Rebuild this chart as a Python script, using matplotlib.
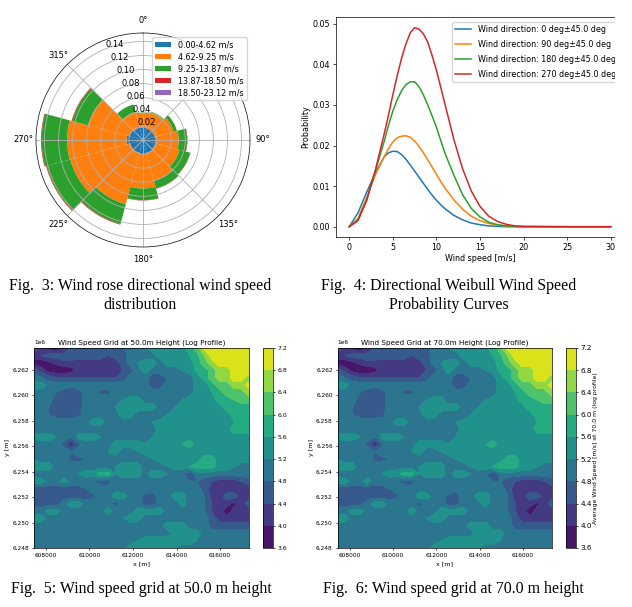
#!/usr/bin/env python3

import numpy as np
import matplotlib
matplotlib.use("Agg")
import matplotlib.pyplot as plt
from matplotlib.patches import Rectangle

W, H = 632, 607

# wind rose, stacked frequency per sector
DIRS = [0, 30, 60, 90, 120, 150, 180, 210, 240, 270, 300, 330]
BIN_LABELS = ["0.00-4.62 m/s", "4.62-9.25 m/s", "9.25-13.87 m/s", "13.87-18.50 m/s", "18.50-23.12 m/s"]
BIN_1 = [.0176, .0171, .0171, .0181, .0181, .019, .020, .019, .019, .0233, .020, .0181]
BIN_2 = [.0204, .0238, .028, .0327, .0356, .0409, .0489, .0755, .0879, .0845, .0608, .0232]
BIN_3 = [.001, .0009, .0048, .0119, .0157, .0114, .0166, .029, .0347, .0361, .0232, .011]
BIN_4 = [0, 0, 0, .0005, .0005, .0005, .0005, .001, .001, .001, .001, 0]
BIN_5 = [0, 0, 0, 0, 0, 0, 0, 0, 0, 0, 0, 0]
R_TICKS = [0.02, 0.04, 0.06, 0.08, 0.10, 0.12, 0.14]
THETA_TICKS = [0, 45, 90, 135, 180, 225, 270, 315]
THETA_LABELS = ["0\u00b0", "", "90\u00b0", "135\u00b0", "180\u00b0", "225\u00b0", "270\u00b0", "315\u00b0"]

# weibull curves
SPEED = [0, 1, 2, 3, 4, 4.5, 5, 5.5, 6, 6.5, 7, 7.5, 8, 8.5, 9, 9.5, 10, 10.5, 11,
         12, 13, 14, 15, 16, 17, 18, 19, 20, 25, 30]
P_0 = [0, .0034, .0085, .0133, .0172, .0182, .0186, .0185, .0178, .0166, .0152, .0137, .0122, .0107, .0092,
       .0078, .0065, .0054, .0044, .0028, .0017, .0009, .0005, .0002, .0001, 0, 0, 0, 0, 0]
P_90 = [0, .0020, .0072, .0128, .0172, .0192, .0209, .0219, .0223, .0224, .0220, .0211, .0198, .0182, .0165,
        .0147, .0129, .0111, .0095, .0066, .0043, .0026, .0015, .0008, .0004, .0002, .0001, 0, 0, 0]
P_180 = [0, .0017, .0066, .0138, .021, .025, .0285, .0313, .0335, .0350, .0357, .0357, .0345, .0325, .0300,
         .0273, .0245, .0212, .0180, .0127, .0079, .0045, .0024, .0011, .0005, .0002, .0001, 0, 0, 0]
P_270 = [0, .0015, .0065, .0140, .0228, .0275, .0325, .0372, .0415, .0450, .0478, .0490, .0487, .0475, .0455,
         .0422, .0385, .0343, .0300, .0215, .0143, .0088, .0050, .0026, .0013, .0006, .0002, .0001, 0, 0]
CURVE_LABELS = ["Wind direction: 0 deg\u00b145.0 deg", "Wind direction: 90 deg\u00b145.0 deg",
                "Wind direction: 180 deg\u00b145.0 deg", "Wind direction: 270 deg\u00b145.0 deg"]

# wind speed grid, top row first
LEVELS = [3.6, 4.0, 4.4, 4.8, 5.2, 5.6, 6.0, 6.4, 6.8, 7.2]
X_RANGE = [607450, 617330]
Y_RANGE = [6248000, 6263730]
SPEED_GRID = [
    [4.6, 4.2, 3.8, 3.7, 3.9, 4.4, 4.6, 4.6, 4.6, 4.6, 4.6, 4.6, 4.7, 5.0, 5.0, 5.2, 5.4, 5.4, 5.4, 5.4, 5.5, 5.8, 6.2, 7.0, 7.0, 7.0, 7.0, 7.0, 7.0, 7.0],
    [4.2, 4.4, 4.6, 4.6, 4.6, 4.6, 4.6, 4.6, 4.6, 4.6, 4.4, 4.6, 4.6, 5.0, 5.0, 5.0, 5.0, 5.4, 5.4, 5.4, 5.4, 5.6, 5.9, 6.4, 7.0, 7.0, 7.0, 7.0, 7.0, 7.0],
    [3.8, 3.7, 3.9, 4.1, 4.3, 4.3, 4.2, 4.2, 4.2, 4.2, 4.2, 4.2, 4.6, 5.0, 5.2, 5.4, 5.4, 5.0, 5.4, 5.4, 5.4, 5.4, 5.8, 6.2, 6.6, 7.0, 7.0, 7.0, 7.0, 7.0],
    [4.6, 4.2, 3.8, 3.7, 3.7, 3.8, 4.2, 4.2, 4.2, 4.2, 4.2, 4.2, 4.4, 4.6, 5.0, 5.4, 5.0, 5.0, 5.0, 5.0, 5.2, 5.4, 5.7, 5.8, 6.2, 6.6, 6.6, 7.0, 7.0, 7.0],
    [5.0, 4.8, 4.6, 4.4, 4.4, 4.4, 4.4, 4.4, 4.4, 4.4, 4.4, 4.4, 4.6, 5.0, 5.0, 5.0, 4.6, 4.6, 4.8, 4.8, 4.8, 5.0, 5.4, 5.8, 6.2, 6.6, 6.6, 7.0, 7.0, 6.6],
    [5.4, 5.4, 5.0, 5.0, 5.0, 5.0, 5.0, 5.0, 5.0, 5.0, 5.0, 5.0, 5.0, 5.0, 5.0, 5.0, 4.5, 4.6, 5.0, 5.0, 5.0, 5.0, 5.4, 5.4, 5.8, 6.2, 6.2, 6.6, 6.6, 7.0],
    [5.0, 5.0, 5.0, 4.8, 4.6, 4.4, 4.6, 5.0, 5.0, 4.7, 4.7, 5.0, 5.0, 5.0, 5.0, 5.0, 5.0, 5.0, 5.0, 5.0, 5.0, 5.0, 5.4, 5.4, 5.6, 5.8, 6.2, 6.2, 6.2, 6.6],
    [5.0, 5.0, 5.0, 4.6, 4.6, 4.6, 4.6, 5.0, 5.0, 5.0, 5.0, 5.0, 5.2, 5.4, 5.4, 5.0, 5.0, 5.0, 5.0, 5.0, 5.2, 5.4, 5.4, 5.4, 5.4, 5.8, 5.8, 6.0, 6.2, 6.2],
    [5.0, 5.0, 4.8, 4.6, 4.6, 4.6, 4.6, 5.0, 5.0, 5.0, 5.0, 5.2, 5.4, 5.4, 5.4, 5.4, 5.4, 5.0, 5.0, 5.2, 5.4, 5.4, 5.4, 5.4, 5.4, 5.4, 5.8, 5.8, 5.8, 5.8],
    [5.0, 5.0, 4.8, 4.6, 4.6, 4.6, 4.7, 5.0, 5.0, 5.0, 5.0, 5.0, 5.4, 5.4, 5.0, 5.0, 5.0, 5.0, 5.2, 5.4, 5.4, 5.4, 5.4, 5.4, 5.4, 5.4, 5.4, 5.8, 5.8, 5.8],
    [5.0, 5.0, 5.0, 5.0, 5.0, 5.0, 5.0, 5.0, 5.4, 5.4, 5.0, 5.0, 5.0, 5.0, 5.0, 5.0, 5.2, 5.3, 5.4, 5.4, 5.4, 5.4, 5.4, 5.4, 5.4, 5.4, 5.4, 5.6, 5.8, 5.8],
    [5.0, 5.0, 5.0, 5.0, 5.0, 5.0, 5.0, 5.0, 5.0, 5.0, 5.0, 5.0, 5.0, 5.0, 5.0, 5.0, 5.0, 5.4, 5.4, 5.4, 5.4, 5.4, 5.4, 5.4, 5.4, 5.4, 5.4, 5.8, 5.8, 5.8],
    [5.4, 5.4, 5.4, 5.2, 5.0, 4.8, 5.4, 5.4, 5.4, 5.2, 5.0, 5.0, 5.0, 5.0, 5.0, 5.0, 5.2, 5.4, 5.4, 5.4, 5.4, 5.4, 5.4, 5.4, 5.4, 5.4, 5.4, 5.4, 5.4, 5.4],
    [5.0, 5.0, 5.0, 5.0, 4.7, 4.0, 4.7, 5.0, 5.0, 5.0, 5.0, 5.4, 5.4, 5.4, 5.4, 5.2, 5.4, 5.4, 5.4, 5.4, 5.6, 5.8, 5.4, 5.4, 5.4, 5.4, 5.4, 5.4, 5.4, 5.4],
    [5.0, 5.0, 5.0, 5.0, 5.0, 4.8, 5.0, 5.0, 5.0, 5.0, 5.2, 5.4, 5.0, 5.0, 5.2, 5.4, 5.4, 5.4, 5.4, 5.4, 5.4, 5.4, 5.4, 5.4, 5.4, 5.4, 5.4, 5.4, 5.4, 5.4],
    [5.2, 5.0, 5.0, 5.0, 5.0, 4.7, 4.7, 4.8, 5.0, 5.0, 5.0, 5.0, 5.0, 5.0, 5.0, 5.0, 5.2, 5.4, 5.4, 5.4, 5.4, 5.4, 5.4, 5.8, 5.8, 5.4, 5.4, 5.4, 5.4, 5.4],
    [5.4, 5.4, 5.4, 5.0, 5.0, 5.0, 5.0, 5.0, 5.0, 5.0, 5.0, 5.2, 5.4, 5.4, 5.4, 5.0, 5.0, 5.0, 5.2, 5.4, 5.4, 5.6, 5.8, 5.8, 5.8, 5.4, 5.4, 5.2, 5.0, 5.0],
    [5.0, 5.0, 5.0, 5.0, 5.0, 5.0, 5.2, 5.4, 5.4, 5.8, 5.8, 5.2, 5.4, 5.4, 5.4, 5.0, 5.4, 5.4, 5.2, 5.0, 4.8, 4.4, 5.0, 5.0, 5.0, 5.0, 5.0, 5.0, 5.0, 5.0],
    [5.4, 5.4, 5.0, 5.0, 5.4, 5.0, 5.0, 5.0, 4.8, 4.6, 4.6, 5.0, 5.0, 5.0, 5.0, 5.0, 5.0, 5.0, 5.0, 5.0, 5.0, 4.8, 4.8, 4.6, 4.4, 4.2, 4.2, 4.2, 4.4, 4.6],
    [4.6, 4.6, 4.6, 4.6, 4.6, 4.6, 4.6, 4.8, 5.0, 5.0, 5.0, 5.0, 5.0, 5.0, 5.0, 5.0, 5.0, 5.0, 5.0, 5.0, 5.0, 5.0, 5.0, 4.6, 4.2, 4.2, 4.2, 4.2, 4.2, 4.2],
    [4.6, 4.6, 4.6, 4.6, 4.6, 4.6, 4.6, 4.6, 4.7, 5.0, 5.0, 5.4, 5.4, 5.0, 5.0, 4.7, 4.6, 5.0, 5.0, 5.4, 5.4, 5.0, 5.0, 4.8, 4.2, 4.2, 4.6, 4.6, 4.2, 4.2],
    [4.6, 4.6, 4.6, 4.6, 5.0, 5.4, 5.4, 5.0, 5.0, 5.0, 5.0, 4.6, 5.0, 5.0, 5.0, 4.6, 4.6, 5.0, 5.0, 5.0, 5.4, 5.0, 5.0, 4.8, 4.4, 4.2, 4.2, 3.9, 4.2, 4.6],
    [5.0, 5.0, 5.4, 5.4, 5.0, 5.0, 5.0, 5.0, 5.0, 5.0, 5.4, 5.0, 5.0, 5.0, 5.4, 5.4, 5.4, 5.4, 5.0, 5.0, 5.0, 5.0, 5.0, 4.8, 4.4, 4.2, 3.7, 4.2, 4.2, 4.2],
    [5.4, 5.4, 5.0, 5.0, 5.0, 5.0, 5.0, 5.0, 5.0, 5.0, 5.0, 5.0, 5.2, 5.4, 5.4, 5.0, 5.0, 5.0, 5.0, 5.0, 5.0, 5.0, 5.0, 5.0, 4.6, 4.2, 4.2, 4.2, 4.2, 4.2],
    [5.0, 5.0, 5.0, 5.0, 5.0, 5.0, 5.0, 5.0, 5.0, 5.0, 5.0, 5.0, 5.0, 5.0, 5.0, 5.0, 5.0, 5.0, 5.4, 5.4, 5.4, 5.0, 5.0, 5.0, 4.6, 4.6, 4.6, 4.6, 4.6, 4.6],
    [5.0, 5.0, 5.0, 5.0, 5.0, 5.0, 5.0, 5.0, 5.0, 5.0, 5.0, 5.0, 5.0, 5.0, 5.0, 5.0, 5.0, 5.0, 5.0, 5.4, 5.4, 5.4, 5.4, 5.0, 5.0, 5.0, 5.0, 5.0, 5.0, 5.0],
    [5.0, 5.0, 5.0, 5.0, 5.0, 5.0, 5.0, 5.0, 5.0, 5.0, 5.0, 5.0, 5.0, 5.0, 5.2, 5.4, 5.4, 5.4, 5.4, 5.4, 5.4, 5.4, 5.2, 5.0, 5.0, 5.0, 5.0, 5.0, 5.0, 5.0],
    [5.0, 5.0, 5.0, 5.0, 5.0, 5.0, 5.0, 5.0, 5.0, 5.0, 5.0, 5.0, 5.0, 5.4, 5.4, 5.4, 5.4, 5.4, 5.4, 5.2, 5.0, 5.0, 5.0, 5.0, 5.0, 5.0, 5.0, 5.0, 5.0, 5.0],
]

CAPTIONS = [
    (140, 286, "Fig.  3: Wind rose directional wind speed"),
    (140, 305, "distribution"),
    (449, 286, "Fig.  4: Directional Weibull Wind Speed"),
    (449, 305, "Probability Curves"),
    (141, 589, "Fig.  5: Wind speed grid at 50.0 m height"),
    (453, 589, "Fig.  6: Wind speed grid at 70.0 m height"),
]

plt.rcParams["axes.linewidth"] = 0.5
plt.rcParams["grid.linewidth"] = 0.6
plt.rcParams["xtick.major.width"] = 0.5
plt.rcParams["ytick.major.width"] = 0.5
plt.rcParams["xtick.major.size"] = 2.2
plt.rcParams["ytick.major.size"] = 2.2
plt.rcParams["xtick.major.pad"] = 2
plt.rcParams["ytick.major.pad"] = 2


def px_axes(fig, left, top, right, bottom, **kw):
    return fig.add_axes([left / W, 1 - bottom / H, (right - left) / W, (bottom - top) / H], **kw)


fig = plt.figure(figsize=(W / 100, H / 100), dpi=100, facecolor="white")

# wind rose
ax = px_axes(fig, 36, 33, 250, 247, projection="polar")
ax.set_theta_zero_location("N")
ax.set_theta_direction(-1)
theta = np.radians(DIRS)
bottom = np.zeros(len(DIRS))
for vals, label in zip([BIN_1, BIN_2, BIN_3, BIN_4, BIN_5], BIN_LABELS):
    ax.bar(theta, vals, width=np.radians(30), bottom=bottom, label=label)
    bottom += np.array(vals)
ax.set_ylim(0, 0.152)
ax.set_thetagrids(THETA_TICKS, THETA_LABELS)
ax.set_rgrids(R_TICKS, [f"{r:.2f}" for r in R_TICKS], fontsize=6)
ax.set_rlabel_position(-22.5)
ax.tick_params(axis="x", labelsize=6, pad=0)
ax.legend(loc="upper left", bbox_to_anchor=(152 / W, 1 - 37 / H), bbox_transform=fig.transFigure,
          fontsize=5.8, borderaxespad=0, labelspacing=0.37)

# weibull curves
ax = px_axes(fig, 336.2, 17.3, 623.8, 236.7)
for vals, label in zip([P_0, P_90, P_180, P_270], CURVE_LABELS):
    ax.plot(SPEED, vals, linewidth=1.1, label=label)
ax.set_xlim(-1.5, 31.5)
ax.set_ylim(-0.00246, 0.05158)
ax.set_yticks([0, 0.01, 0.02, 0.03, 0.04, 0.05])
ax.set_xticks([0, 5, 10, 15, 20, 25, 30])
ax.tick_params(labelsize=5.8)
ax.set_xlabel("Wind speed [m/s]", fontsize=5.8, labelpad=1.5)
ax.set_ylabel("Probability", fontsize=5.8, labelpad=2)
ax.legend(loc="upper left", bbox_to_anchor=(452 / W, 1 - 22 / H), bbox_transform=fig.transFigure,
          fontsize=5.8, borderaxespad=0, labelspacing=0.72)
# the source picture is cut off on the right of this panel
fig.add_artist(Rectangle((615 / W, 1 - 260 / H), 17 / W, 260 / H, transform=fig.transFigure,
                         facecolor="white", edgecolor="none", zorder=10))

# wind speed grids
grid = np.array(SPEED_GRID)
xs = np.linspace(X_RANGE[0], X_RANGE[1], grid.shape[1])
ys = np.linspace(Y_RANGE[1], Y_RANGE[0], grid.shape[0])
panels = [
    (34, 249, 263, 273, "Wind Speed Grid at 50.0m Height (Log Profile)", None, 4.4),
    (337.7, 552, 566, 576, "Wind Speed Grid at 70.0m Height (Log Profile)",
     "Average Wind Speed [m/s] at 70.0 m (log profile)", 5.2),
]
for left, right, cb_left, cb_right, title, cb_label, cb_size in panels:
    ax = px_axes(fig, left, 348, right, 548)
    cs = ax.contourf(xs, ys, grid, levels=LEVELS, cmap="viridis")
    ax.set_xlim(X_RANGE)
    ax.set_ylim(Y_RANGE)
    ax.set_xticks([608000, 610000, 612000, 614000, 616000])
    ax.set_yticks([6248000, 6250000, 6252000, 6254000, 6256000, 6258000, 6260000, 6262000])
    ax.tick_params(labelsize=4.2, length=1.5)
    ax.yaxis.get_offset_text().set_fontsize(4.2)
    ax.set_xlabel("x [m]", fontsize=4.6, labelpad=2.5)
    ax.set_ylabel("y [m]", fontsize=4.6, labelpad=1.5)
    ax.set_title(title, fontsize=5.2, pad=2.5)
    cax = px_axes(fig, cb_left, 348, cb_right, 548)
    cb = fig.colorbar(cs, cax=cax, ticks=LEVELS)
    cb.ax.tick_params(labelsize=cb_size, length=1.5)
    if cb_label:
        cb.set_label(cb_label, fontsize=4.4, labelpad=0.5)

for x, y, text in CAPTIONS:
    fig.text(x / W, 1 - y / H, text, ha="center", va="center", fontsize=11.4,
             family="Liberation Serif", color="black")

fig.savefig("out.png", dpi=100)
